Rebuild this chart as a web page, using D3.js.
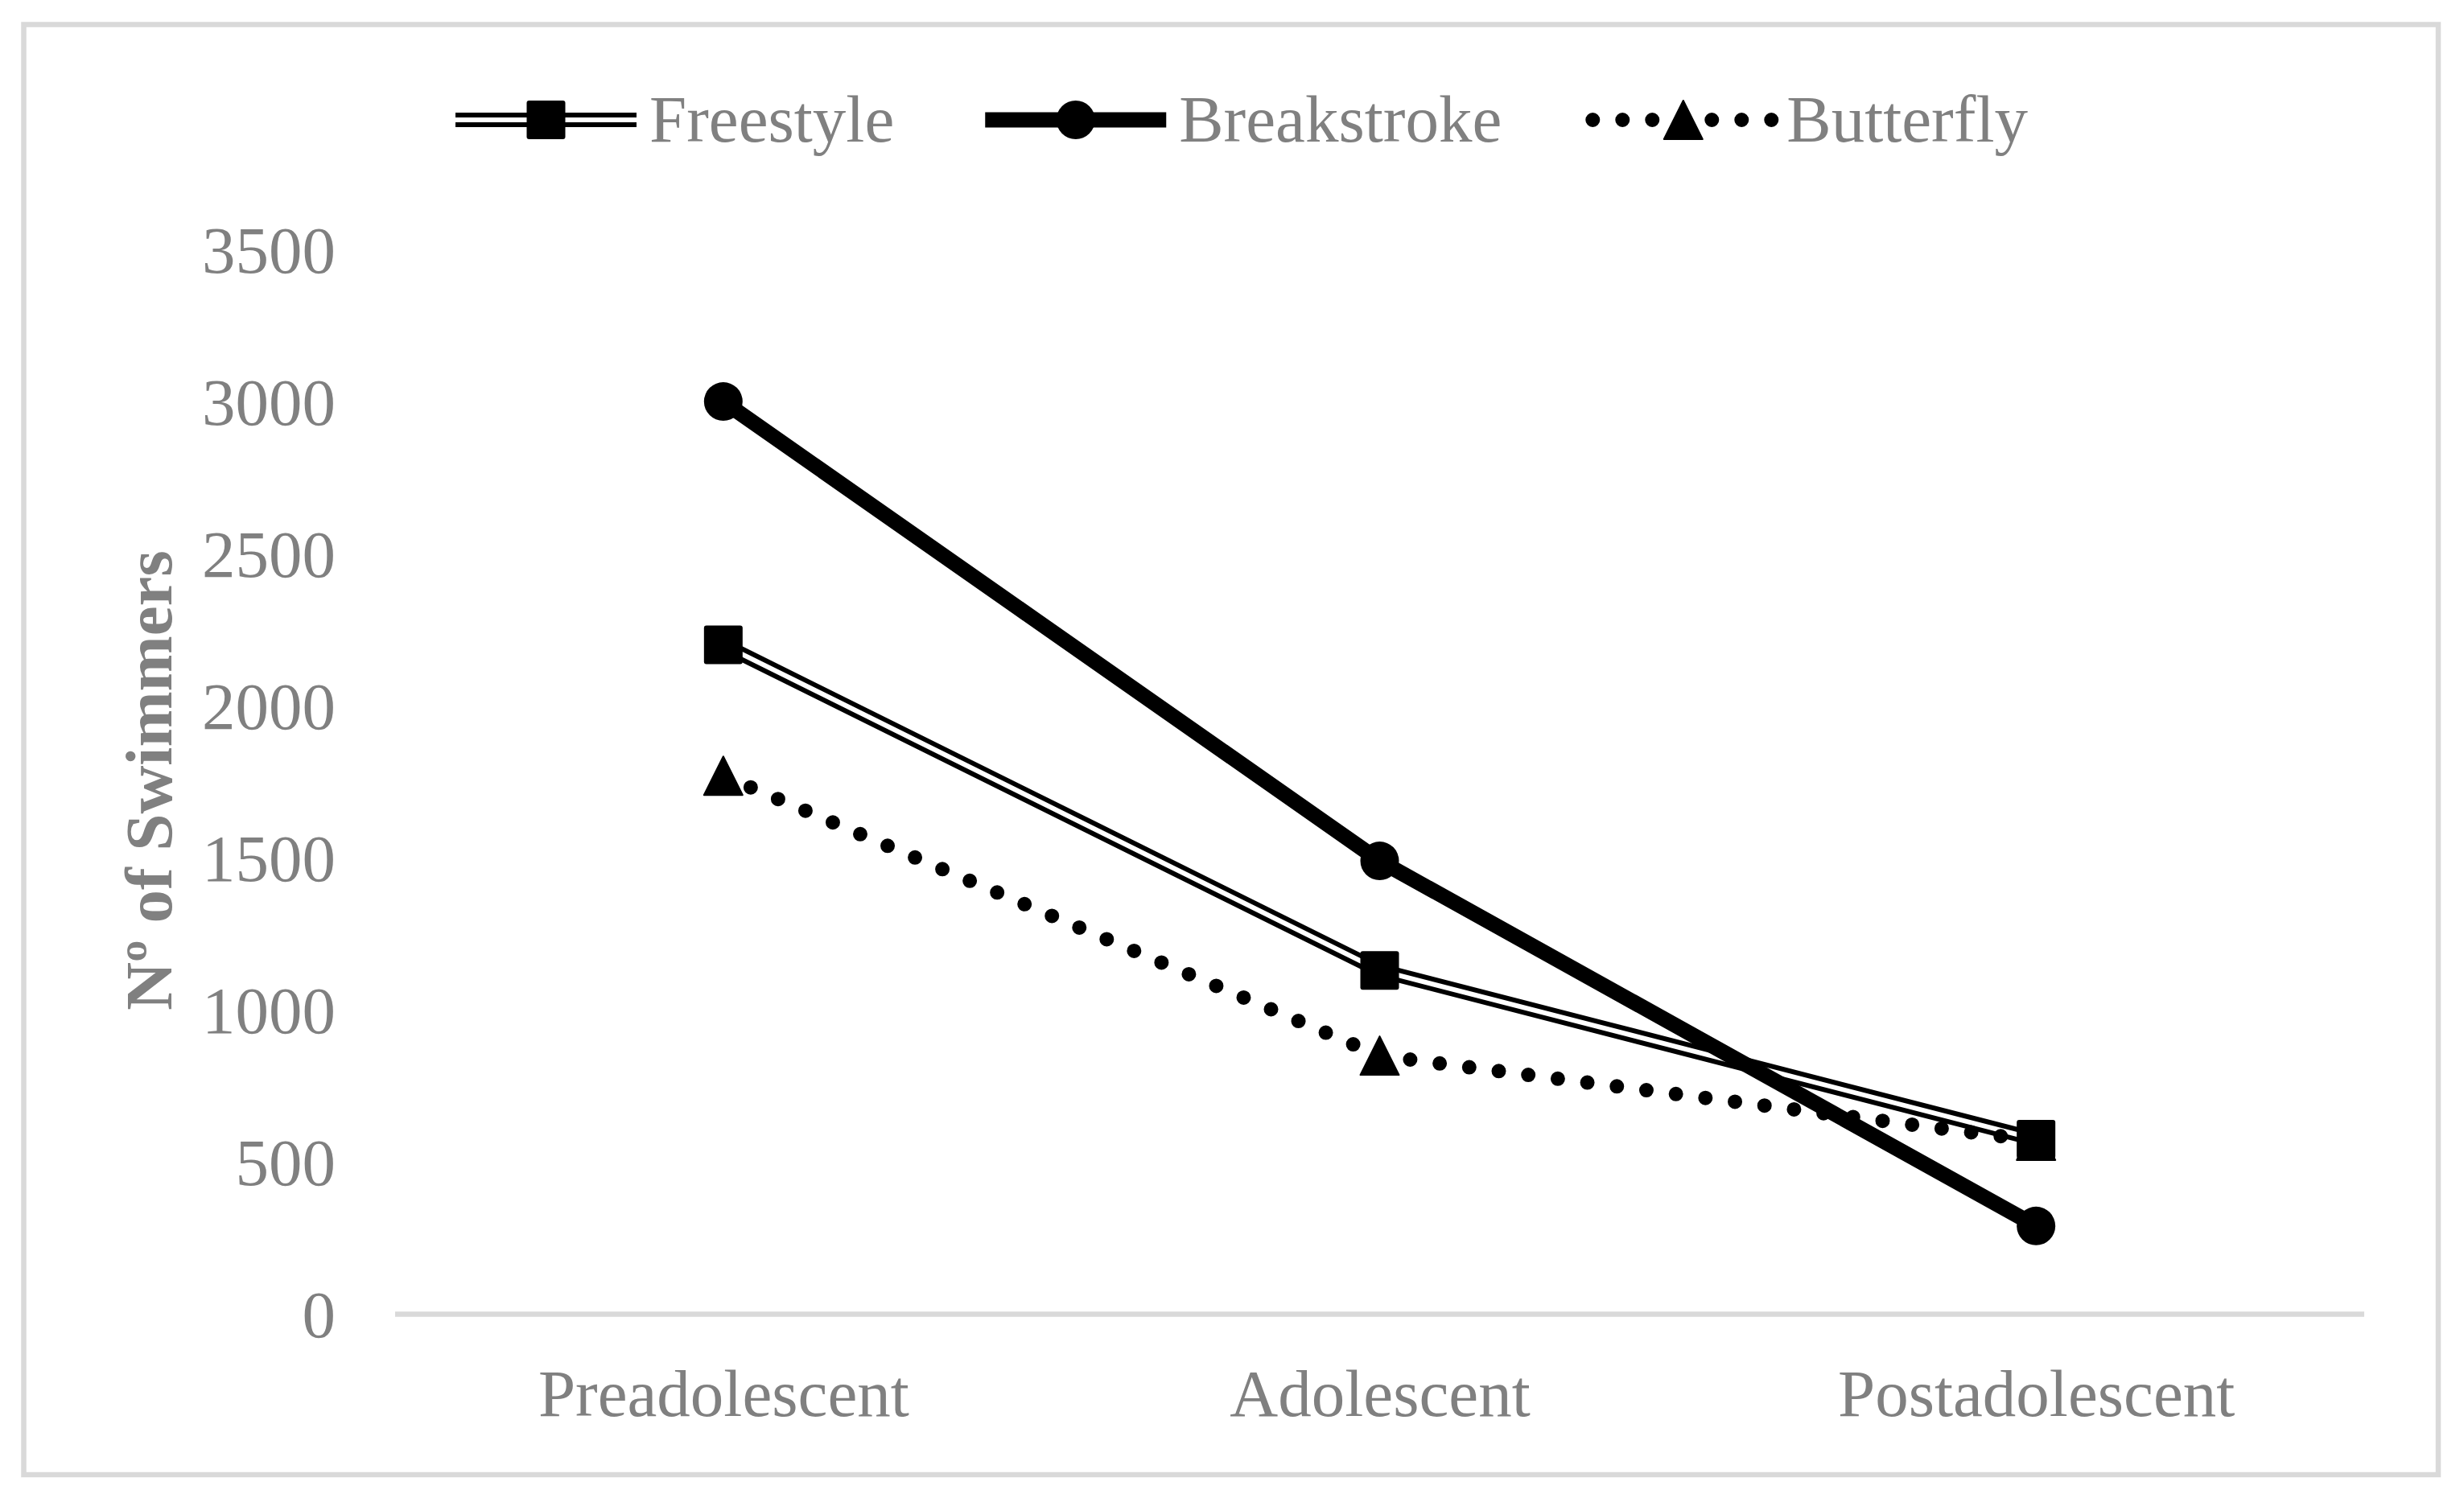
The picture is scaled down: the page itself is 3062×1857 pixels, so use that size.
<!DOCTYPE html>
<html>
<head>
<meta charset="utf-8">
<script src="https://cdn.jsdelivr.net/npm/d3@7"></script>
<style>
  html, body { margin: 0; padding: 0; background: #ffffff; }
  svg { display: block; }
  text { font-family: "Liberation Serif", "Times New Roman", serif; }
</style>
</head>
<body>
<svg id="chart" width="3062" height="1857"></svg>
<script>
// ---- data ----
const categories = ["Preadolescent", "Adolescent", "Postadolescent"];
const seriesNames = ["Freestyle", "Breakstroke", "Butterfly"];
const freestyle = [2200, 1130, 575];
const breakstroke = [3000, 1490, 290];
const butterfly = [1770, 850, 570];
const yTicks = [0, 500, 1000, 1500, 2000, 2500, 3000, 3500];
const yTitle = "Nº of Swimmers";

// ---- layout ----
const W = 3062, H = 1857;
const plot = { left: 491, right: 2938, top: 310, bottom: 1633.5 };
const fontSize = 83;
const gray = "#808080";
const gridGray = "#d9d9d9";

const svg = d3.select("#chart");

// outer frame
svg.append("rect")
  .attr("x", 29.5).attr("y", 30.5)
  .attr("width", 3030 - 29.5).attr("height", 1833 - 30.5)
  .attr("fill", "#ffffff")
  .attr("stroke", gridGray).attr("stroke-width", 6.5);

const x = d3.scalePoint().domain(categories).range([plot.left, plot.right]).padding(0.5);
const y = d3.scaleLinear().domain([0, 3500]).range([plot.bottom, plot.top]);

// y axis (labels only)
const yAxis = svg.append("g")
  .attr("transform", `translate(${plot.left},0)`)
  .call(d3.axisLeft(y).tickValues(yTicks).tickSize(0).tickPadding(74).tickFormat(d3.format("d")));
yAxis.select(".domain").remove();
yAxis.selectAll("text")
  .attr("dy", "0.34em")
  .style("font-family", '"Liberation Serif", "Times New Roman", serif')
  .style("font-size", fontSize + "px")
  .attr("fill", gray);

// x axis (labels only)
const xAxis = svg.append("g")
  .attr("transform", `translate(0,${plot.bottom})`)
  .call(d3.axisBottom(x).tickSize(0).tickPadding(67.6));
xAxis.select(".domain").remove();
xAxis.selectAll("text")
  .style("font-family", '"Liberation Serif", "Times New Roman", serif')
  .style("font-size", fontSize + "px")
  .attr("fill", gray);

// baseline (0) line
svg.append("line")
  .attr("x1", plot.left).attr("x2", plot.right)
  .attr("y1", y(0)).attr("y2", y(0))
  .attr("stroke", gridGray).attr("stroke-width", 6.5);

// y title
svg.append("text")
  .attr("transform", `translate(213,${970}) rotate(-90)`)
  .attr("text-anchor", "middle")
  .attr("font-weight", "bold")
  .attr("font-size", fontSize)
  .attr("fill", gray)
  .text(yTitle);

// ---- series ----
const seriesValues = [freestyle, breakstroke, butterfly];
const line = d3.line().x((d, i) => x(categories[i])).y(d => y(d));
const markerSize = 48;

function drawMarker(g, kind, cx, cy) {
  if (kind === 0) {
    g.append("rect")
      .attr("x", cx - markerSize / 2).attr("y", cy - markerSize / 2)
      .attr("width", markerSize).attr("height", markerSize)
      .attr("rx", 3).attr("fill", "#000");
  } else if (kind === 1) {
    g.append("circle").attr("cx", cx).attr("cy", cy).attr("r", markerSize / 2).attr("fill", "#000");
  } else {
    const h = markerSize, w = markerSize;
    g.append("path")
      .attr("d", `M${cx},${cy - h / 2} L${cx + w / 2},${cy + h / 2} L${cx - w / 2},${cy + h / 2} Z`)
      .attr("fill", "#000").attr("stroke", "#000").attr("stroke-width", 2).attr("stroke-linejoin", "round");
  }
}

function drawLineStyle(g, kind, d) {
  if (kind === 0) {
    g.append("path").attr("d", d).attr("fill", "none").attr("stroke", "#000").attr("stroke-width", 18);
    g.append("path").attr("d", d).attr("fill", "none").attr("stroke", "#fff").attr("stroke-width", 6);
  } else if (kind === 1) {
    g.append("path").attr("d", d).attr("fill", "none").attr("stroke", "#000").attr("stroke-width", 19);
  } else {
    g.append("path").attr("d", d).attr("fill", "none").attr("stroke", "#000").attr("stroke-width", 18)
      .attr("stroke-linecap", "round").attr("stroke-dasharray", "0 37");
  }
}

seriesValues.forEach((vals, k) => {
  const g = svg.append("g").attr("class", "series-" + k);
  drawLineStyle(g, k, line(vals));
  vals.forEach((v, i) => drawMarker(g, k, x(categories[i]), y(v)));
});

// ---- legend ----
const legendY = 149;
const lineLen = 225, textGap = 16, itemGap = 113;
let lx = 566;
seriesNames.forEach((name, k) => {
  const g = svg.append("g").attr("class", "legend-" + k);
  drawLineStyle(g, k, `M${lx},${legendY} L${lx + lineLen},${legendY}`);
  drawMarker(g, k, lx + lineLen / 2, legendY);
  const t = g.append("text")
    .attr("x", lx + lineLen + textGap).attr("y", 176)
    .attr("font-size", fontSize).attr("fill", gray)
    .text(name);
  const tw = t.node().getComputedTextLength();
  lx = lx + lineLen + textGap + tw + itemGap;
});
</script>
</body>
</html>
